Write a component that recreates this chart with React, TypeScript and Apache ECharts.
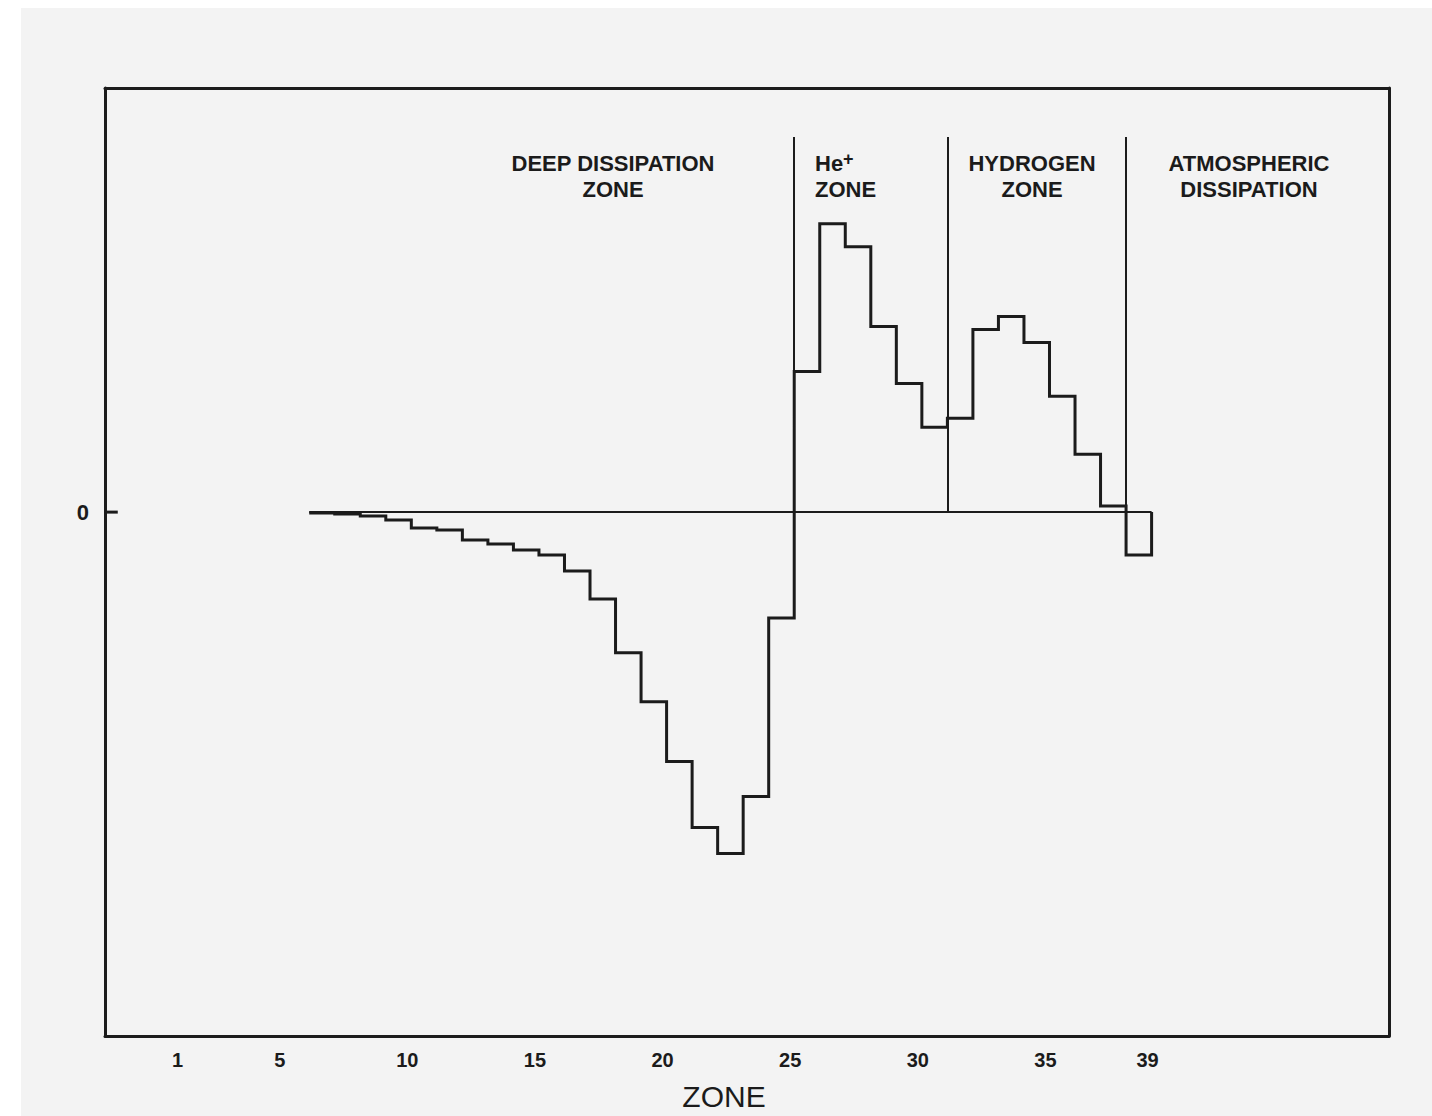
import React, { useEffect, useRef } from "react";
import * as echarts from "echarts";

// Zone numbers (each zone drawn as a unit-wide step ending at its number)
const zones = [7, 8, 9, 10, 11, 12, 13, 14, 15, 16, 17, 18, 19, 20, 21, 22, 23, 24, 25, 26, 27, 28, 29, 30, 31, 32, 33, 34, 35, 36, 37, 38, 39];
// Values in arbitrary units
const values = [-0.1, -0.2, -0.4, -0.8, -1.6, -1.8, -2.8, -3.2, -3.8, -4.3, -5.9, -8.7, -14.1, -19.0, -25.0, -31.6, -34.2, -28.5, -10.6, 14.1, 28.9, 26.6, 18.6, 12.9, 8.5, 9.4, 18.3, 19.6, 17.0, 11.6, 5.8, 0.6, -4.3];
const xTickLabels = [1, 5, 10, 15, 20, 25, 30, 35, 39];
const yTickLabels = [0];
const dividerZones = [25, 31, 38];
const dividerTop = 37.6;
const regionTitles = ["DEEP DISSIPATION\nZONE", "He+\nZONE", "HYDROGEN\nZONE", "ATMOSPHERIC\nDISSIPATION"];

const INK = "#1b1b1b";
const FONT = '"Liberation Sans", Arial, sans-serif';

export default function App() {
  const ref = useRef<HTMLDivElement>(null);

  useEffect(() => {
    if (!ref.current) return;
    const chart = echarts.init(ref.current, null, { renderer: "svg" });

    const firstStart = zones[0] - 1;
    const lastEnd = zones[zones.length - 1];
    const stepPts: number[][] = [];
    zones.forEach((z, i) => {
      stepPts.push([z - 1, values[i]]);
      stepPts.push([z, values[i]]);
    });
    stepPts.push([lastEnd, 0]);

    const textBase = { fill: INK, fontFamily: FONT, fontSize: 22, fontWeight: "bold" };

    const option: any = {
      animation: false,
      backgroundColor: "#f3f3f3",
      grid: { left: 84, top: 80, width: 1284, height: 950, containLabel: false },
      xAxis: [
        {
          type: "value",
          min: -2,
          max: 48.3,
          interval: 1,
          name: "ZONE",
          nameLocation: "middle",
          nameGap: 45,
          nameTextStyle: { fontFamily: FONT, fontSize: 30, color: INK, padding: [0, 46, 0, 0] },
          axisLine: { show: true, onZero: false, lineStyle: { color: INK, width: 3 } },
          axisTick: { show: false },
          splitLine: { show: false },
          axisLabel: {
            margin: 14,
            fontFamily: FONT,
            fontSize: 20,
            fontWeight: "bold",
            color: INK,
            padding: [0, 8, 0, 0],
            showMinLabel: true,
            showMaxLabel: false,
            formatter: (v: number) => (xTickLabels.includes(Math.round(v * 1000) / 1000) ? String(v) : ""),
          },
        },
        {
          type: "value",
          position: "top",
          min: -2,
          max: 48.3,
          axisLine: { show: true, onZero: false, lineStyle: { color: INK, width: 3 } },
          axisTick: { show: false },
          axisLabel: { show: false },
          splitLine: { show: false },
        },
      ],
      yAxis: [
        {
          type: "value",
          min: -52.5,
          max: 42.5,
          interval: 2.5,
          axisLine: { show: true, onZero: false, lineStyle: { color: INK, width: 3 } },
          axisTick: { show: false },
          splitLine: { show: false },
          axisLabel: {
            margin: 16,
            fontFamily: FONT,
            fontSize: 22,
            fontWeight: "bold",
            color: INK,
            padding: [6, 0, 0, 0],
            formatter: (v: number) => (yTickLabels.includes(v) ? String(v) : ""),
          },
        },
        {
          type: "value",
          position: "right",
          min: -52.5,
          max: 42.5,
          axisLine: { show: true, onZero: false, lineStyle: { color: INK, width: 3 } },
          axisTick: { show: false },
          axisLabel: { show: false },
          splitLine: { show: false },
        },
      ],
      series: [
        {
          type: "line",
          name: "baseline",
          data: [[firstStart, 0], [lastEnd, 0]],
          showSymbol: false,
          lineStyle: { color: INK, width: 2 },
          markLine: {
            silent: true,
            symbol: "none",
            label: { show: false },
            lineStyle: { color: INK, width: 2, type: "solid" },
            data: dividerZones.map((z) => [{ coord: [z, 0] }, { coord: [z, dividerTop] }]),
          },
        },
        {
          type: "line",
          name: "zero tick",
          data: [[-2, 0], [-1.5, 0]],
          showSymbol: false,
          lineStyle: { color: INK, width: 3 },
        },
        {
          type: "line",
          name: "histogram",
          data: stepPts,
          showSymbol: false,
          lineStyle: { color: INK, width: 3, join: "miter" },
        },
      ],
      graphic: [
        {
          type: "text",
          x: 592,
          y: 168,
          style: { ...textBase, text: regionTitles[0], align: "center", verticalAlign: "middle", lineHeight: 26 },
        },
        {
          type: "text",
          x: 794,
          y: 168,
          style: {
            text: "{a|He}{s|+}\n{a|ZONE}",
            align: "left",
            verticalAlign: "middle",
            rich: {
              a: { ...textBase, lineHeight: 26 },
              s: { fill: INK, fontFamily: FONT, fontSize: 18, fontWeight: "bold", verticalAlign: "top", lineHeight: 26 },
            },
          },
        },
        {
          type: "text",
          x: 1011,
          y: 168,
          style: { ...textBase, text: regionTitles[2], align: "center", verticalAlign: "middle", lineHeight: 26 },
        },
        {
          type: "text",
          x: 1228,
          y: 168,
          style: { ...textBase, text: regionTitles[3], align: "center", verticalAlign: "middle", lineHeight: 26 },
        },
      ],
    };

    chart.setOption(option);
    return () => chart.dispose();
  }, []);

  return (
    <div style={{ position: "fixed", left: 0, top: 0, width: 1432, height: 1116, background: "#ffffff" }}>
      <div ref={ref} style={{ position: "absolute", left: 21, top: 8, width: 1411, height: 1108 }} />
    </div>
  );
}
